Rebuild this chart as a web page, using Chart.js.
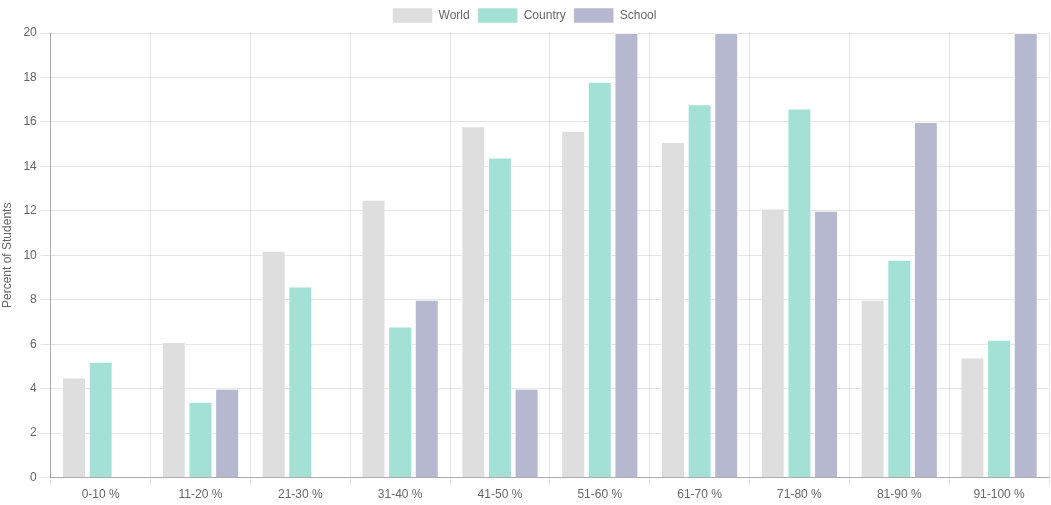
<!DOCTYPE html>
<html>
<head>
<meta charset="utf-8">
<script src="https://cdn.jsdelivr.net/npm/chart.js@4/dist/chart.umd.min.js"></script>
<style>
  html, body { margin: 0; padding: 0; background: #fff; }
  #wrap { width: 1051px; height: 505px; }
</style>
</head>
<body>
<div id="wrap"><canvas id="gradeChart"></canvas></div>
<script>
const categories = ["0-10 %", "11-20 %", "21-30 %", "31-40 %", "41-50 %", "51-60 %", "61-70 %", "71-80 %", "81-90 %", "91-100 %"];
const worldValues = [4.5, 6.1, 10.2, 12.5, 15.8, 15.6, 15.1, 12.1, 8.0, 5.4];
const countryValues = [5.2, 3.4, 8.6, 6.8, 14.4, 17.8, 16.8, 16.6, 9.8, 6.2];
const schoolValues = [0, 4, 0, 8, 4, 20, 20, 12, 16, 20];
const yTicks = [0, 2, 4, 6, 8, 10, 12, 14, 16, 18, 20];

Chart.defaults.font.family = "'Liberation Sans', Arial, sans-serif";
Chart.defaults.font.size = 12;
Chart.defaults.color = "#666";

const ctx = document.getElementById("gradeChart");

new Chart(ctx, {
  type: "bar",
  data: {
    labels: categories,
    datasets: [
      {
        label: "World",
        data: worldValues,
        backgroundColor: "#dedede",
        borderColor: "rgba(255,255,255,0.5)",
        borderWidth: 1
      },
      {
        label: "Country",
        data: countryValues,
        backgroundColor: "#a3e1d4",
        borderColor: "rgba(255,255,255,0.5)",
        borderWidth: 1
      },
      {
        label: "School",
        data: schoolValues,
        backgroundColor: "#b5b8cf",
        borderColor: "rgba(255,255,255,0.5)",
        borderWidth: 1
      }
    ]
  },
  options: {
    responsive: true,
    maintainAspectRatio: false,
    animation: false,
    layout: {
      padding: { left: 0, right: 2, top: 0, bottom: 1 }
    },
    plugins: {
      legend: {
        position: "top",
        labels: {
          boxWidth: 40,
          boxHeight: 15,
          padding: 8,
          color: "#666"
        }
      },
      tooltip: { enabled: false }
    },
    scales: {
      x: {
        grid: {
          offset: true,
          color: "rgba(0,0,0,0.1)",
          tickLength: 8
        },
        border: { color: "rgba(0,0,0,0.25)" },
        ticks: { color: "#666", padding: 2 }
      },
      y: {
        min: 0,
        max: 20,
        afterBuildTicks(axis) {
          axis.ticks = yTicks.map(v => ({ value: v }));
        },
        grid: {
          color: "rgba(0,0,0,0.1)",
          tickLength: 10
        },
        border: { color: "rgba(0,0,0,0.25)" },
        ticks: { color: "#666", padding: 4 },
        title: {
          display: true,
          text: "Percent of Students",
          color: "#666",
          padding: { top: 0, bottom: 5 }
        }
      }
    }
  }
});
</script>
</body>
</html>
